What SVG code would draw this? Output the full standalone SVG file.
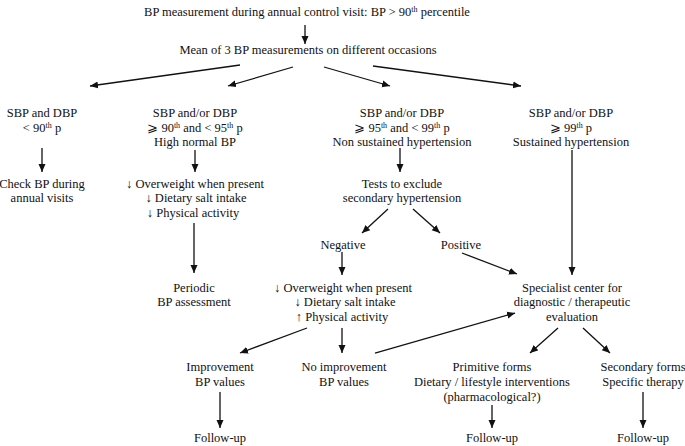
<svg xmlns="http://www.w3.org/2000/svg" width="685" height="446" viewBox="0 0 685 446">
<style>
text{font-family:"Liberation Serif","DejaVu Serif",serif;font-size:12.5px;fill:#111;text-anchor:middle}
.sup{font-size:8px}
.c line,.c polyline{stroke:#111;stroke-width:1.3;fill:none}
</style>
<defs>
<marker id="ah" markerUnits="userSpaceOnUse" markerWidth="10" markerHeight="8" refX="8" refY="4" orient="auto">
<path d="M0,0.5 L8,4 L0,7.5 Z" fill="#111"/>
</marker>
</defs>
<rect width="685" height="446" fill="#fff"/>
<g id="n-title"><text x="307" y="16">BP measurement during annual control visit: BP &gt; 90<tspan class="sup" dy="-4">th</tspan><tspan dy="4"> percentile</tspan></text></g>
<g id="n-mean"><text x="308" y="54">Mean of 3 BP measurements on different occasions</text></g>
<g id="n-c1"><text x="42" y="117">SBP and DBP</text><text x="42" y="132">&lt; 90<tspan class="sup" dy="-4">th</tspan><tspan dy="4"> p</tspan></text></g>
<g id="n-c2"><text x="195" y="117">SBP and/or DBP</text><text x="195" y="132">⩾ 90<tspan class="sup" dy="-4">th</tspan><tspan dy="4"> and &lt; 95</tspan><tspan class="sup" dy="-4">th</tspan><tspan dy="4"> p</tspan></text><text x="195" y="146">High normal BP</text></g>
<g id="n-c3"><text x="402" y="117">SBP and/or DBP</text><text x="402" y="132">⩾ 95<tspan class="sup" dy="-4">th</tspan><tspan dy="4"> and &lt; 99</tspan><tspan class="sup" dy="-4">th</tspan><tspan dy="4"> p</tspan></text><text x="402" y="146">Non sustained hypertension</text></g>
<g id="n-c4"><text x="571" y="117">SBP and/or DBP</text><text x="571" y="132">⩾ 99<tspan class="sup" dy="-4">th</tspan><tspan dy="4"> p</tspan></text><text x="571" y="146">Sustained hypertension</text></g>
<g id="n-check"><text x="42" y="188">Check BP during</text><text x="42" y="202">annual visits</text></g>
<g id="n-life1"><text x="195" y="188">↓ Overweight when present</text><text x="196" y="202">↓ Dietary salt intake</text><text x="193" y="217">↓ Physical activity</text></g>
<g id="n-tests"><text x="402" y="188">Tests to exclude</text><text x="402" y="202">secondary hypertension</text></g>
<g id="n-neg"><text x="343" y="249">Negative</text></g>
<g id="n-pos"><text x="461" y="249">Positive</text></g>
<g id="n-periodic"><text x="194" y="292">Periodic</text><text x="194" y="306">BP assessment</text></g>
<g id="n-life2"><text x="343" y="292">↓ Overweight when present</text><text x="345" y="306">↓ Dietary salt intake</text><text x="342" y="321">↑ Physical activity</text></g>
<g id="n-spec"><text x="572" y="292">Specialist center for</text><text x="572" y="306">diagnostic / therapeutic</text><text x="572" y="321">evaluation</text></g>
<g id="n-impr"><text x="220" y="371">Improvement</text><text x="220" y="386">BP values</text></g>
<g id="n-noimpr"><text x="344" y="371">No improvement</text><text x="344" y="386">BP values</text></g>
<g id="n-prim"><text x="492" y="371">Primitive forms</text><text x="492" y="386">Dietary / lifestyle interventions</text><text x="492" y="401">(pharmacological?)</text></g>
<g id="n-sec"><text x="643" y="371">Secondary forms</text><text x="643" y="386">Specific therapy</text></g>
<g id="n-fu1"><text x="220" y="442">Follow-up</text></g>
<g id="n-fu2"><text x="492" y="442">Follow-up</text></g>
<g id="n-fu3"><text x="643" y="442">Follow-up</text></g>
<g id="connectors" class="c">
<line x1="305" y1="25" x2="305" y2="44" marker-end="url(#ah)"/>
<line x1="240" y1="65" x2="90" y2="86" marker-end="url(#ah)"/>
<line x1="293" y1="67" x2="228" y2="86" marker-end="url(#ah)"/>
<line x1="324" y1="67" x2="390" y2="86" marker-end="url(#ah)"/>
<line x1="373" y1="66" x2="521" y2="86" marker-end="url(#ah)"/>
<line x1="42" y1="148" x2="42" y2="172" marker-end="url(#ah)"/>
<line x1="195" y1="150" x2="195" y2="172" marker-end="url(#ah)"/>
<line x1="400" y1="148" x2="400" y2="172" marker-end="url(#ah)"/>
<line x1="572" y1="150" x2="572" y2="275" marker-end="url(#ah)"/>
<line x1="194" y1="223" x2="194" y2="273" marker-end="url(#ah)"/>
<line x1="388" y1="209" x2="362" y2="233" marker-end="url(#ah)"/>
<line x1="413" y1="209" x2="440" y2="233" marker-end="url(#ah)"/>
<line x1="342" y1="252" x2="342" y2="275" marker-end="url(#ah)"/>
<line x1="462" y1="253" x2="517" y2="274" marker-end="url(#ah)"/>
<line x1="307" y1="328" x2="240" y2="353" marker-end="url(#ah)"/>
<line x1="342" y1="328" x2="342" y2="353" marker-end="url(#ah)"/>
<line x1="375" y1="353" x2="515" y2="313" marker-end="url(#ah)"/>
<line x1="558" y1="328" x2="530" y2="353" marker-end="url(#ah)"/>
<line x1="583" y1="328" x2="610" y2="353" marker-end="url(#ah)"/>
<line x1="220" y1="392" x2="220" y2="428" marker-end="url(#ah)"/>
<line x1="492" y1="405" x2="492" y2="428" marker-end="url(#ah)"/>
<line x1="643" y1="392" x2="643" y2="428" marker-end="url(#ah)"/>
</g>
</svg>
